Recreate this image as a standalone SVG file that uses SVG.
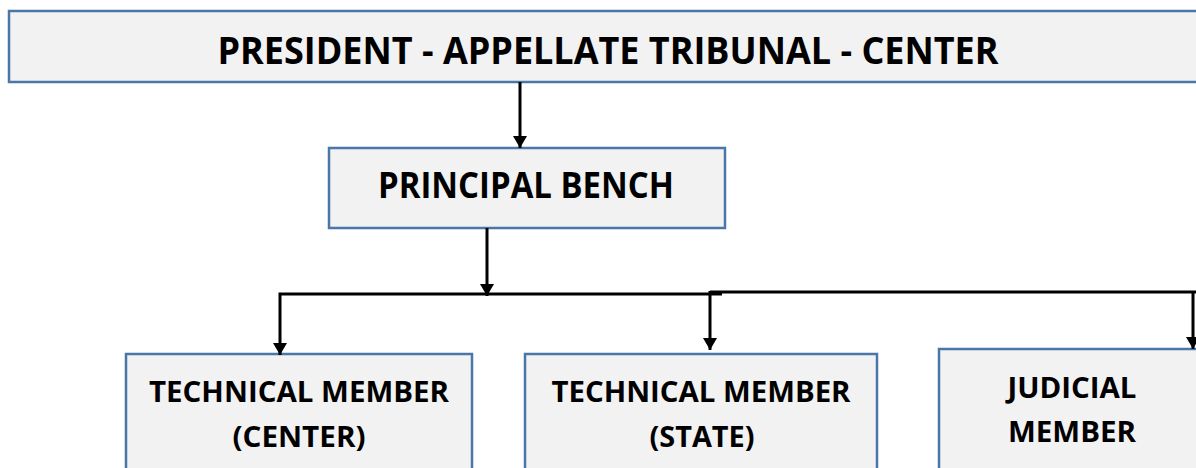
<svg xmlns="http://www.w3.org/2000/svg" width="1196" height="468" viewBox="0 0 1196 468">
<defs>
<style>
.box{fill:#f2f2f2;stroke:#4a76a8;stroke-width:2.5}
.t{font-family:"Open Sans","Liberation Sans",sans-serif;font-weight:bold;fill:#000;text-anchor:middle}
.c{stroke:#000;stroke-width:3;fill:none}
</style>
<marker id="ah" viewBox="0 0 12 14" refX="12" refY="7" markerWidth="12" markerHeight="14" markerUnits="userSpaceOnUse" orient="auto">
<path d="M0,0 L12,7 L0,14 Z" fill="#000"/>
</marker>
</defs>
<rect width="1196" height="468" fill="#fff"/>
<g id="president">
<rect class="box" x="9" y="11" width="1200" height="71"/>
<text class="t" x="608" y="64" font-size="37" textLength="781" lengthAdjust="spacingAndGlyphs">PRESIDENT - APPELLATE TRIBUNAL - CENTER</text>
</g>
<g id="principal">
<rect class="box" x="329" y="148" width="396" height="80"/>
<text class="t" x="526" y="198" font-size="35" textLength="296" lengthAdjust="spacingAndGlyphs">PRINCIPAL BENCH</text>
</g>
<g id="tm-center">
<rect class="box" x="126" y="354" width="346" height="130"/>
<text class="t" x="299" y="402" font-size="28" textLength="300" lengthAdjust="spacingAndGlyphs">TECHNICAL MEMBER</text>
<text class="t" x="299" y="447" font-size="28" textLength="133" lengthAdjust="spacingAndGlyphs">(CENTER)</text>
</g>
<g id="tm-state">
<rect class="box" x="525" y="354" width="352" height="130"/>
<text class="t" x="701" y="402" font-size="28" textLength="299" lengthAdjust="spacingAndGlyphs">TECHNICAL MEMBER</text>
<text class="t" x="702" y="447" font-size="28" textLength="105" lengthAdjust="spacingAndGlyphs">(STATE)</text>
</g>
<g id="judicial">
<rect class="box" x="939" y="349" width="300" height="135"/>
<text class="t" x="1072" y="398" font-size="28" textLength="129" lengthAdjust="spacingAndGlyphs">JUDICIAL</text>
<text class="t" x="1072" y="442" font-size="28" textLength="128" lengthAdjust="spacingAndGlyphs">MEMBER</text>
</g>
<g id="connectors">
<line class="c" x1="520" y1="82" x2="520" y2="148" marker-end="url(#ah)"/>
<line class="c" x1="487" y1="228" x2="487" y2="296" marker-end="url(#ah)"/>
<polyline class="c" points="722,294 280,294 280,355" marker-end="url(#ah)"/>
<line class="c" x1="710" y1="292" x2="1196" y2="292"/>
<line class="c" x1="710" y1="291" x2="710" y2="350" marker-end="url(#ah)"/>
<line class="c" x1="1193" y1="292" x2="1193" y2="349" marker-end="url(#ah)"/>
</g>
</svg>
